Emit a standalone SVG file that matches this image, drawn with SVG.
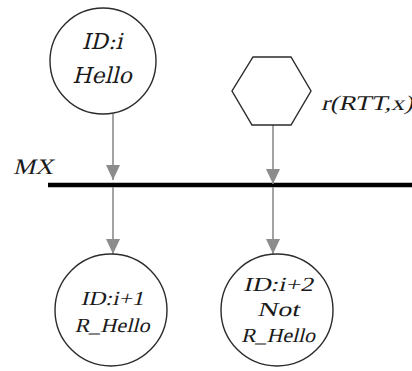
<svg xmlns="http://www.w3.org/2000/svg" width="412" height="371" viewBox="0 0 412 371">
  <style>
    .node { fill: #ffffff; stroke: #2b2b2b; stroke-width: 1.4; }
    .conn { stroke: #8c8c8c; stroke-width: 1.6; fill: none; }
    .tms { font-family: "Liberation Serif", "Times New Roman", serif; font-size: 20px; fill: #1a1a1a; }
    .slab { font-family: "DejaVu Serif", serif; font-size: 22px; fill: #1a1a1a; text-anchor: middle; }
    .mid { text-anchor: middle; }
  </style>
  <defs>
    <marker id="tri" viewBox="0 0 15 14" refX="15" refY="7" markerWidth="15" markerHeight="14" markerUnits="userSpaceOnUse" orient="auto">
      <path d="M0,0 L15,7 L0,14 Z" fill="#8c8c8c"/>
    </marker>
  </defs>

  <!-- shared medium; labels are slanted with skewX to get an italic look -->
  <g id="bus">
    <line x1="48" y1="185" x2="412" y2="185" stroke="#000" stroke-width="4.5"/>
    <g transform="translate(13 174) skewX(-14)">
      <text class="tms" x="0" y="0" style="font-size:22px" textLength="40" lengthAdjust="spacingAndGlyphs">MX</text>
    </g>
  </g>

  <!-- connectors -->
  <g id="connectors">
    <line class="conn" x1="113" y1="114" x2="113" y2="180" marker-end="url(#tri)"/>
    <line class="conn" x1="113" y1="187" x2="113" y2="254" marker-end="url(#tri)"/>
    <line class="conn" x1="273" y1="125" x2="273" y2="184" marker-end="url(#tri)"/>
    <line class="conn" x1="273" y1="187" x2="273" y2="254" marker-end="url(#tri)"/>
  </g>

  <g id="node-hello">
    <circle class="node" cx="103" cy="61" r="53"/>
    <g transform="translate(102 49) skewX(-14)"><text class="slab" x="0" y="0">ID:i</text></g>
    <g transform="translate(102 83) skewX(-14)"><text class="slab" x="0" y="0">Hello</text></g>
  </g>

  <g id="node-jammer">
    <polygon class="node" points="253,57 291,57 311,91 291,125 252,125 232,91"/>
    <g transform="translate(321 110) skewX(-14)">
      <text class="tms" x="0" y="0" style="font-size:21px" textLength="92" lengthAdjust="spacingAndGlyphs">r(RTT,x)</text>
    </g>
  </g>

  <g id="node-rhello">
    <circle class="node" cx="111" cy="310" r="56"/>
    <g transform="translate(112 305) skewX(-14)"><text class="tms mid" x="0" y="0" textLength="63" lengthAdjust="spacingAndGlyphs">ID:i+1</text></g>
    <g transform="translate(112 332) skewX(-14)"><text class="tms mid" x="0" y="0" textLength="75" lengthAdjust="spacingAndGlyphs">R_Hello</text></g>
  </g>

  <g id="node-not-rhello">
    <circle class="node" cx="277" cy="310" r="56"/>
    <g transform="translate(278 291) skewX(-14)"><text class="tms mid" x="0" y="0" textLength="70" lengthAdjust="spacingAndGlyphs">ID:i+2</text></g>
    <g transform="translate(278 316) skewX(-14)"><text class="tms mid" x="0" y="0" textLength="42" lengthAdjust="spacingAndGlyphs">Not</text></g>
    <g transform="translate(278 342) skewX(-14)"><text class="tms mid" x="0" y="0" textLength="74" lengthAdjust="spacingAndGlyphs">R_Hello</text></g>
  </g>
</svg>
